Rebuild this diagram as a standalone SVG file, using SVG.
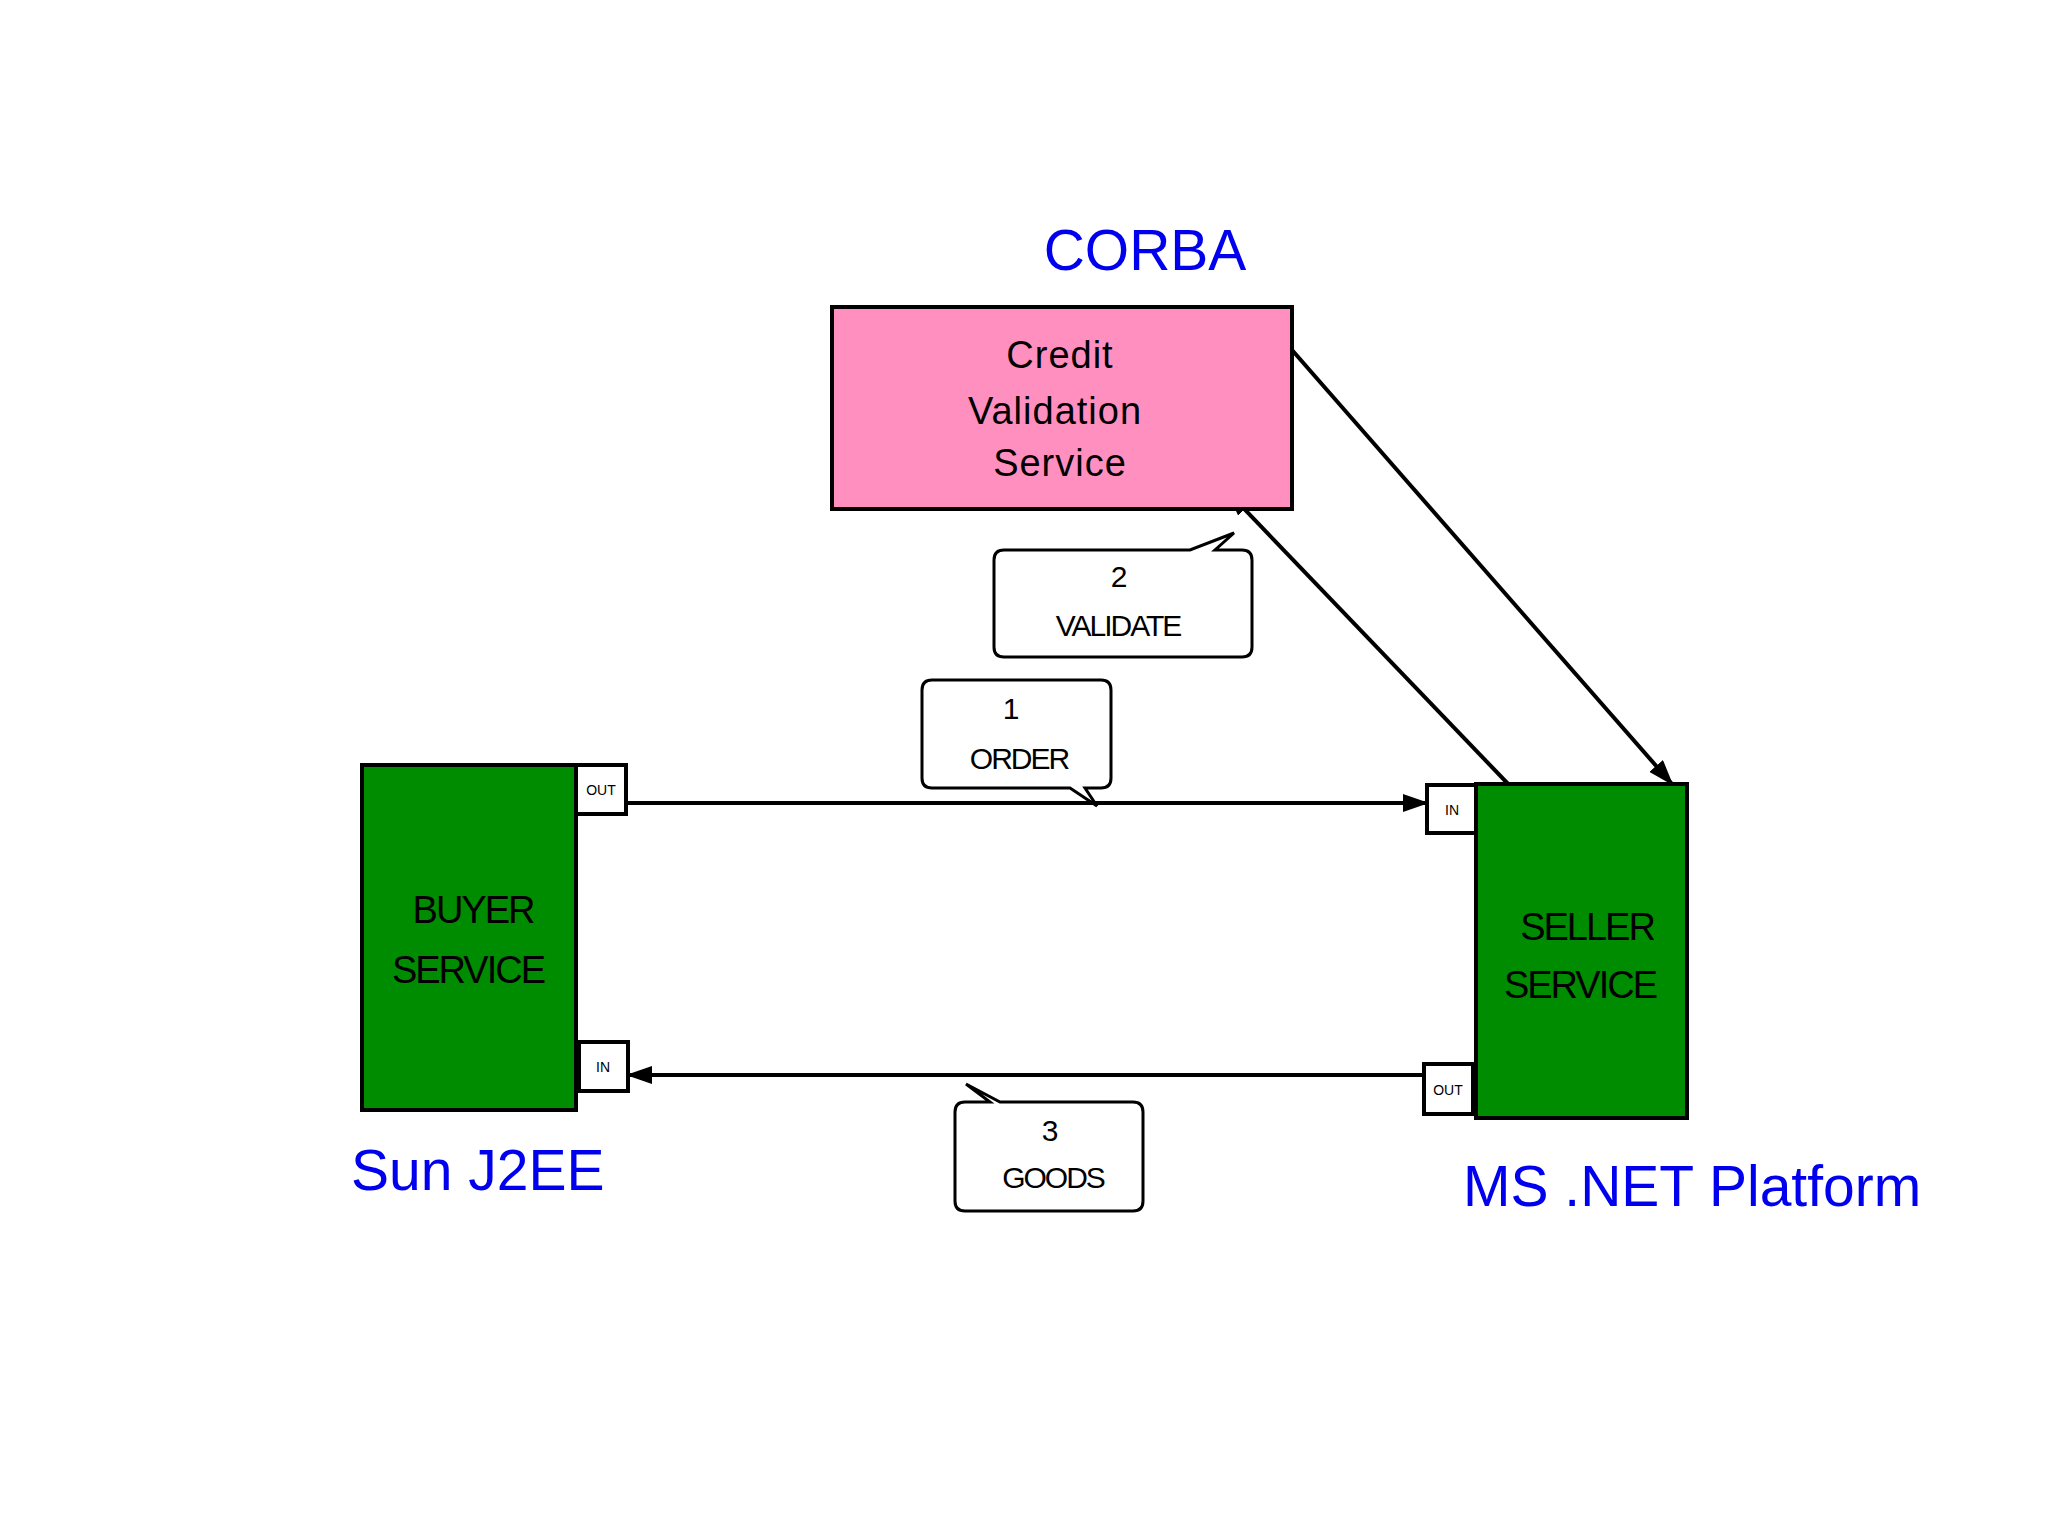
<svg xmlns="http://www.w3.org/2000/svg" width="2048" height="1536" viewBox="0 0 2048 1536">
<style>
.box{stroke:#000;stroke-width:4}
.port{fill:#fff;stroke:#000;stroke-width:4}
.pt{font-family:"Liberation Sans",Arial,sans-serif;font-size:14px;text-anchor:middle}
.blue{font-family:"Liberation Sans",Arial,sans-serif;font-size:57px;fill:#0000ee}
.in{font-family:"Liberation Sans",Arial,sans-serif;font-size:38px;text-anchor:middle;letter-spacing:-2px}
.cl{font-family:"Liberation Sans",Arial,sans-serif;font-size:30px;text-anchor:middle;letter-spacing:-2px}
.ln{stroke:#000;stroke-width:4;fill:none}
.co{fill:#fff;stroke:#000;stroke-width:3}
</style>
<defs>
<marker id="ah" markerWidth="10" markerHeight="8" refX="9" refY="4" orient="auto" markerUnits="userSpaceOnUse" viewBox="0 0 10 8"><path d="M0,0 L10,4 L0,8 z" fill="#000"/></marker>
<marker id="ahb" markerWidth="26" markerHeight="18" refX="24" refY="9" orient="auto" markerUnits="userSpaceOnUse" viewBox="0 0 26 18"><path d="M0,0 L26,9 L0,18 z" fill="#000"/></marker>
</defs>
<rect width="2048" height="1536" fill="#fff"/>
<text class="blue" x="1145" y="270" text-anchor="middle">CORBA</text>
<text class="blue" x="351" y="1190">Sun J2EE</text>
<text class="blue" x="1463" y="1206">MS .NET Platform</text>
<g id="connectors">
<line class="ln" x1="626" y1="803" x2="1427" y2="803" marker-end="url(#ahb)"/>
<line class="ln" x1="1424" y1="1075" x2="628" y2="1075" marker-end="url(#ahb)"/>
<line class="ln" x1="1292" y1="350" x2="1672" y2="784" marker-end="url(#ahb)"/>
<line class="ln" x1="1512" y1="788" x2="1228" y2="492" marker-end="url(#ahb)"/>
</g>
<g id="credit">
<rect class="box" x="832" y="307" width="460" height="202" fill="#ff8fbf"/>
<text class="in" x="1060" y="368" style="letter-spacing:1px">Credit</text>
<text class="in" x="1055" y="424" style="letter-spacing:1px">Validation</text>
<text class="in" x="1060" y="476" style="letter-spacing:1px">Service</text>
</g>
<g id="buyer">
<rect class="box" x="362" y="765" width="214" height="345" fill="#008c00"/>
<text class="in" x="473" y="923">BUYER</text>
<text class="in" x="468" y="983">SERVICE</text>
<rect class="port" x="576" y="765" width="50" height="49"/><text class="pt" x="601" y="795">OUT</text>
<rect class="port" x="579" y="1042" width="49" height="49"/><text class="pt" x="603" y="1072">IN</text>
</g>
<g id="seller">
<rect class="box" x="1476" y="784" width="211" height="334" fill="#008c00"/>
<text class="in" x="1587" y="940">SELLER</text>
<text class="in" x="1580" y="998">SERVICE</text>
<rect class="port" x="1427" y="785" width="49" height="48"/><text class="pt" x="1452" y="815">IN</text>
<rect class="port" x="1424" y="1064" width="49" height="50"/><text class="pt" x="1448" y="1095">OUT</text>
</g>
<g id="c2">
<path class="co" d="M1004,550 H1190 L1234,533 L1215,550 H1242 Q1252,550 1252,560 V647 Q1252,657 1242,657 H1004 Q994,657 994,647 V560 Q994,550 1004,550 z"/>
<text class="cl" x="1118" y="587">2</text><text class="cl" x="1118" y="636">VALIDATE</text>
</g>
<g id="c1">
<path class="co" d="M932,680 H1101 Q1111,680 1111,690 V778 Q1111,788 1101,788 H1085 L1097,806 L1070,788 H932 Q922,788 922,778 V690 Q922,680 932,680 z"/>
<text class="cl" x="1010" y="719">1</text><text class="cl" x="1019" y="769">ORDER</text>
</g>
<g id="c3">
<path class="co" d="M965,1102 H990 L966,1084 L1000,1102 H1133 Q1143,1102 1143,1112 V1201 Q1143,1211 1133,1211 H965 Q955,1211 955,1201 V1112 Q955,1102 965,1102 z"/>
<text class="cl" x="1049" y="1141">3</text><text class="cl" x="1053" y="1188">GOODS</text>
</g>
</svg>
